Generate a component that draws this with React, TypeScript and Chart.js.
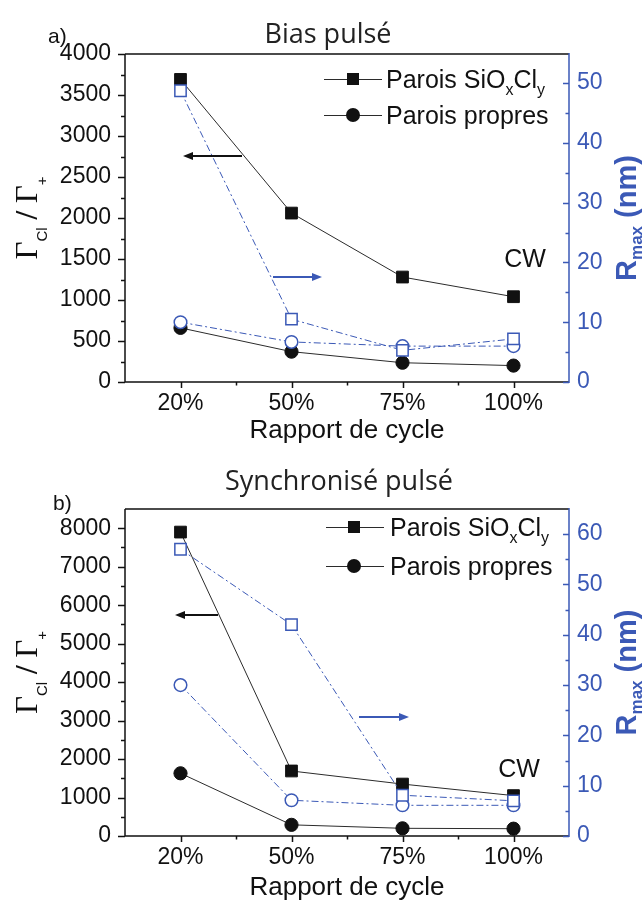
import React, { useEffect, useRef } from 'react';
import { Chart, registerables } from 'chart.js';

Chart.register(...registerables);

// ---------- data ----------
const categories = ['20%', '50%', '75%', '100%'];

// a) Bias pulsé
const biasSiOxClyRatio = [3690, 2060, 1280, 1040];
const biasPropresRatio = [660, 370, 235, 200];
const biasSiOxClyRmax = [48.7, 10.5, 5.3, 7.2];
const biasPropresRmax = [10.0, 6.7, 6.0, 6.0];
const biasLeftTicks = [0, 500, 1000, 1500, 2000, 2500, 3000, 3500, 4000];
const biasRightTicks = [0, 10, 20, 30, 40, 50];

// b) Synchronisé pulsé
const syncSiOxClyRatio = [7900, 1690, 1350, 1050];
const syncPropresRatio = [1630, 290, 200, 190];
const syncSiOxClyRmax = [57.0, 42.0, 8.1, 7.0];
const syncPropresRmax = [30.0, 7.1, 6.1, 6.1];
const syncLeftTicks = [0, 1000, 2000, 3000, 4000, 5000, 6000, 7000, 8000];
const syncRightTicks = [0, 10, 20, 30, 40, 50, 60];

const legendLabels = ['Parois SiOxCly', 'Parois propres'];
const xTitle = 'Rapport de cycle';

// ---------- styles ----------
const BLUE = '#3b59b6';
const BLACK = '#111111';
const LINE_DARK = '#2b2b2b';
const SANS = "'Liberation Sans', Arial, Helvetica, sans-serif";
const SERIF = "'Liberation Serif', 'Times New Roman', serif";
const TITLE_FONT = "'Open Sans', 'Noto Sans', sans-serif";

type Seg = { t: string; font: string; dy?: number; color?: string };

function drawRich(ctx: CanvasRenderingContext2D, segs: Seg[], x: number, y: number, center = false) {
  let total = 0;
  for (const s of segs) { ctx.font = s.font; total += ctx.measureText(s.t).width; }
  let cx = center ? x - total / 2 : x;
  ctx.textAlign = 'left';
  ctx.textBaseline = 'alphabetic';
  for (const s of segs) {
    ctx.font = s.font;
    if (s.color) ctx.fillStyle = s.color;
    ctx.fillText(s.t, cx, y + (s.dy || 0));
    cx += ctx.measureText(s.t).width;
  }
}

function drawArrow(ctx: CanvasRenderingContext2D, x1: number, y: number, x2: number, color: string) {
  const dir = Math.sign(x2 - x1);
  ctx.save();
  ctx.strokeStyle = color;
  ctx.fillStyle = color;
  ctx.lineWidth = 2;
  ctx.beginPath();
  ctx.moveTo(x1, y);
  ctx.lineTo(x2 - dir * 7, y);
  ctx.stroke();
  ctx.beginPath();
  ctx.moveTo(x2, y);
  ctx.lineTo(x2 - dir * 10, y - 4);
  ctx.lineTo(x2 - dir * 10, y + 4);
  ctx.closePath();
  ctx.fill();
  ctx.restore();
}

type PanelCfg = {
  title: string;
  letter: string;
  height: number;
  padTop: number;
  xAxisHeight: number;
  leftMax: number;
  leftStep: number;
  leftTicks: number[];
  rightMax: number;
  rightStep: number;
  rightTicks: number[];
  sqRatio: number[];
  ciRatio: number[];
  sqRmax: number[];
  ciRmax: number[];
  titlePos: [number, number];
  letterPos: [number, number];
  legendY: [number, number];
  legendX: [number, number, number, number]; // line start, marker, line end, text
  cwPos: [number, number];
  blackArrow: [number, number, number];
  blueArrow: [number, number, number];
  xTitleY: number;
};

const panels: PanelCfg[] = [
  {
    title: 'Bias pulsé', letter: 'a)', height: 452, padTop: 54, xAxisHeight: 70,
    leftMax: 4000, leftStep: 500, leftTicks: biasLeftTicks,
    rightMax: 54.85, rightStep: 10, rightTicks: biasRightTicks,
    sqRatio: biasSiOxClyRatio, ciRatio: biasPropresRatio, sqRmax: biasSiOxClyRmax, ciRmax: biasPropresRmax,
    titlePos: [328, 35], letterPos: [48, 37], legendY: [79, 115], legendX: [324, 353, 382, 386],
    cwPos: [525, 260], blackArrow: [242, 156, 183], blueArrow: [273, 277, 322], xTitleY: 431,
  },
  {
    title: 'Synchronisé pulsé', letter: 'b)', height: 453, padTop: 57, xAxisHeight: 69,
    leftMax: 8500, leftStep: 1000, leftTicks: syncLeftTicks,
    rightMax: 65, rightStep: 10, rightTicks: syncRightTicks,
    sqRatio: syncSiOxClyRatio, ciRatio: syncPropresRatio, sqRmax: syncSiOxClyRmax, ciRmax: syncPropresRmax,
    titlePos: [339, 30], letterPos: [53, 52], legendY: [75, 114], legendX: [326, 354, 384, 390],
    cwPos: [519, 318], blackArrow: [218, 163, 175], blueArrow: [359, 265, 409], xTitleY: 436,
  },
];

function makeDecor(cfg: PanelCfg) {
  return {
    id: 'decor',
    afterDraw(chart: any) {
      const { ctx, chartArea } = chart;
      const { left, right, top, bottom } = chartArea;
      const x = chart.scales.x;
      const y = chart.scales.y;
      const y1 = chart.scales.y1;
      ctx.save();
      ctx.lineCap = 'butt';

      // frame: left, bottom, top (black)
      ctx.strokeStyle = BLACK;
      ctx.lineWidth = 1.5;
      ctx.beginPath();
      ctx.moveTo(left, top); ctx.lineTo(left, bottom);
      ctx.moveTo(left, bottom); ctx.lineTo(right, bottom);
      ctx.moveTo(left, top); ctx.lineTo(right, top);
      ctx.stroke();

      // left ticks (outward)
      ctx.lineWidth = 1.5;
      ctx.beginPath();
      for (const t of y.ticks) {
        const py = Math.round(y.getPixelForValue(t.value)) + 0.5;
        ctx.moveTo(left - 7, py); ctx.lineTo(left, py);
      }
      for (let v = cfg.leftStep / 2; v < cfg.leftMax - 1e-6; v += cfg.leftStep) {
        const py = Math.round(y.getPixelForValue(v)) + 0.5;
        ctx.moveTo(left - 4, py); ctx.lineTo(left, py);
      }
      // x ticks (outward)
      const n = x.ticks.length;
      for (let i = 0; i < n; i++) {
        const px = Math.round(x.getPixelForTick(i)) + 0.5;
        ctx.moveTo(px, bottom); ctx.lineTo(px, bottom + 6);
        if (i < n - 1) {
          const pm = Math.round((x.getPixelForTick(i) + x.getPixelForTick(i + 1)) / 2) + 0.5;
          ctx.moveTo(pm, bottom); ctx.lineTo(pm, bottom + 3.5);
        }
      }
      ctx.stroke();

      // right axis (blue), ticks inward
      ctx.strokeStyle = BLUE;
      ctx.lineWidth = 1.5;
      ctx.beginPath();
      ctx.moveTo(right, top - 1); ctx.lineTo(right, bottom + 1);
      for (const t of y1.ticks) {
        const py = Math.round(y1.getPixelForValue(t.value)) + 0.5;
        ctx.moveTo(right - 6, py); ctx.lineTo(right, py);
      }
      for (let v = cfg.rightStep / 2; v < cfg.rightMax - 1e-6; v += cfg.rightStep) {
        const py = Math.round(y1.getPixelForValue(v)) + 0.5;
        ctx.moveTo(right - 3.5, py); ctx.lineTo(right, py);
      }
      ctx.stroke();

      // chart title
      ctx.fillStyle = '#222';
      ctx.font = `27px ${TITLE_FONT}`;
      ctx.textAlign = 'center';
      ctx.textBaseline = 'middle';
      ctx.fillText(cfg.title, cfg.titlePos[0], cfg.titlePos[1]);

      // panel letter
      ctx.fillStyle = BLACK;
      ctx.font = `21px ${SANS}`;
      ctx.textAlign = 'left';
      ctx.textBaseline = 'middle';
      ctx.fillText(cfg.letter, cfg.letterPos[0], cfg.letterPos[1]);

      // x axis title
      ctx.font = `26px ${SANS}`;
      ctx.textAlign = 'center';
      ctx.textBaseline = 'middle';
      ctx.fillText(xTitle, (left + right) / 2, cfg.xTitleY);

      // CW
      ctx.font = `25px ${SANS}`;
      ctx.fillText('CW', cfg.cwPos[0], cfg.cwPos[1]);

      // legend
      const [lx1, mx, lx2, tx] = cfg.legendX;
      for (let k = 0; k < 2; k++) {
        const ly = cfg.legendY[k];
        ctx.strokeStyle = LINE_DARK;
        ctx.lineWidth = 1;
        ctx.beginPath();
        ctx.moveTo(lx1, ly + 0.5); ctx.lineTo(lx2, ly + 0.5);
        ctx.stroke();
        ctx.fillStyle = BLACK;
        ctx.beginPath();
        if (k === 0) ctx.rect(mx - 6, ly - 6, 12, 12);
        else ctx.arc(mx, ly, 7, 0, Math.PI * 2);
        ctx.fill();
        ctx.fillStyle = BLACK;
        if (k === 0) {
          drawRich(ctx, [
            { t: 'Parois SiO', font: `25px ${SANS}` },
            { t: 'x', font: `16px ${SANS}`, dy: 7 },
            { t: 'Cl', font: `25px ${SANS}` },
            { t: 'y', font: `16px ${SANS}`, dy: 7 },
          ], tx, ly + 9);
        } else {
          drawRich(ctx, [{ t: legendLabels[1], font: `25px ${SANS}` }], tx, ly + 9);
        }
      }

      // arrows
      drawArrow(ctx, cfg.blackArrow[0], cfg.blackArrow[1], cfg.blackArrow[2], BLACK);
      drawArrow(ctx, cfg.blueArrow[0], cfg.blueArrow[1], cfg.blueArrow[2], BLUE);

      // left axis title (rotated)
      ctx.save();
      ctx.translate(37, (top + bottom) / 2);
      ctx.rotate(-Math.PI / 2);
      ctx.fillStyle = BLACK;
      drawRich(ctx, [
        { t: 'Γ', font: `31px ${SERIF}` },
        { t: 'Cl', font: `15px ${SANS}`, dy: 10 },
        { t: ' / ', font: `bold 31px ${SERIF}` },
        { t: 'Γ', font: `31px ${SERIF}` },
        { t: '+', font: `15px ${SANS}`, dy: 10 },
      ], 0, 0, true);
      ctx.restore();

      // right axis title (rotated)
      ctx.save();
      ctx.translate(636, (top + bottom) / 2);
      ctx.rotate(-Math.PI / 2);
      ctx.fillStyle = BLUE;
      drawRich(ctx, [
        { t: 'R', font: `bold 29px ${SANS}` },
        { t: 'max', font: `bold 17px ${SANS}`, dy: 6 },
        { t: ' (nm)', font: `bold 29px ${SANS}` },
      ], 0, 0, true);
      ctx.restore();

      ctx.restore();
    },
  };
}

function Panel({ cfg }: { cfg: PanelCfg }) {
  const ref = useRef<HTMLCanvasElement>(null);
  useEffect(() => {
    const tickFont = { family: SANS, size: 23 };
    const plain = (v: any) => String(v);
    const blueLine = {
      borderColor: BLUE, borderWidth: 1, borderDash: [7, 3, 2, 3],
      pointBorderColor: BLUE, pointBackgroundColor: '#ffffff', pointBorderWidth: 1.5,
      yAxisID: 'y1', fill: false, tension: 0,
    };
    const blackLine = {
      borderColor: LINE_DARK, borderWidth: 1,
      pointBorderColor: BLACK, pointBackgroundColor: BLACK, pointBorderWidth: 1,
      yAxisID: 'y', fill: false, tension: 0,
    };
    const chart = new Chart(ref.current as HTMLCanvasElement, {
      type: 'line',
      data: {
        labels: categories,
        datasets: [
          { ...blueLine, label: 'Rmax SiOxCly', data: cfg.sqRmax, pointStyle: 'rect', pointRadius: 8 },
          { ...blueLine, label: 'Rmax propres', data: cfg.ciRmax, pointStyle: 'circle', pointRadius: 6.3 },
          { ...blackLine, label: legendLabels[0], data: cfg.sqRatio, pointStyle: 'rect', pointRadius: 8.3 },
          { ...blackLine, label: legendLabels[1], data: cfg.ciRatio, pointStyle: 'circle', pointRadius: 6.6 },
        ] as any,
      },
      options: {
        responsive: false,
        animation: false,
        events: [],
        layout: { padding: { top: cfg.padTop, left: 0, right: 0, bottom: 0 } },
        plugins: { legend: { display: false }, tooltip: { enabled: false }, title: { display: false } },
        scales: {
          x: {
            type: 'category',
            offset: true,
            grid: { display: false, drawTicks: false },
            border: { display: false },
            ticks: { font: tickFont, color: BLACK, padding: 8, maxRotation: 0, autoSkip: false },
            afterFit: (s: any) => { s.height = cfg.xAxisHeight; },
          },
          y: {
            type: 'linear',
            position: 'left',
            min: 0,
            max: cfg.leftMax,
            grid: { display: false, drawTicks: false },
            border: { display: false },
            ticks: { font: tickFont, color: BLACK, padding: 14, callback: plain, autoSkip: false },
            afterBuildTicks: (s: any) => { s.ticks = cfg.leftTicks.map((v) => ({ value: v })); },
            afterFit: (s: any) => { s.width = 125; },
          },
          y1: {
            type: 'linear',
            position: 'right',
            min: 0,
            max: cfg.rightMax,
            grid: { display: false, drawTicks: false },
            border: { display: false },
            ticks: { font: tickFont, color: BLUE, padding: 8, callback: plain, autoSkip: false },
            afterBuildTicks: (s: any) => { s.ticks = cfg.rightTicks.map((v) => ({ value: v })); },
            afterFit: (s: any) => { s.width = 75; },
          },
        },
      } as any,
      plugins: [makeDecor(cfg)],
    });
    return () => chart.destroy();
  }, [cfg]);
  return (
    <canvas
      ref={ref}
      width={644}
      height={cfg.height}
      style={{ display: 'block', width: 644, height: cfg.height }}
    />
  );
}

export default function App() {
  return (
    <div style={{ position: 'absolute', left: 0, top: 0, width: 644, height: 905, background: '#ffffff' }}>
      {panels.map((p, i) => <Panel key={i} cfg={p} />)}
    </div>
  );
}
